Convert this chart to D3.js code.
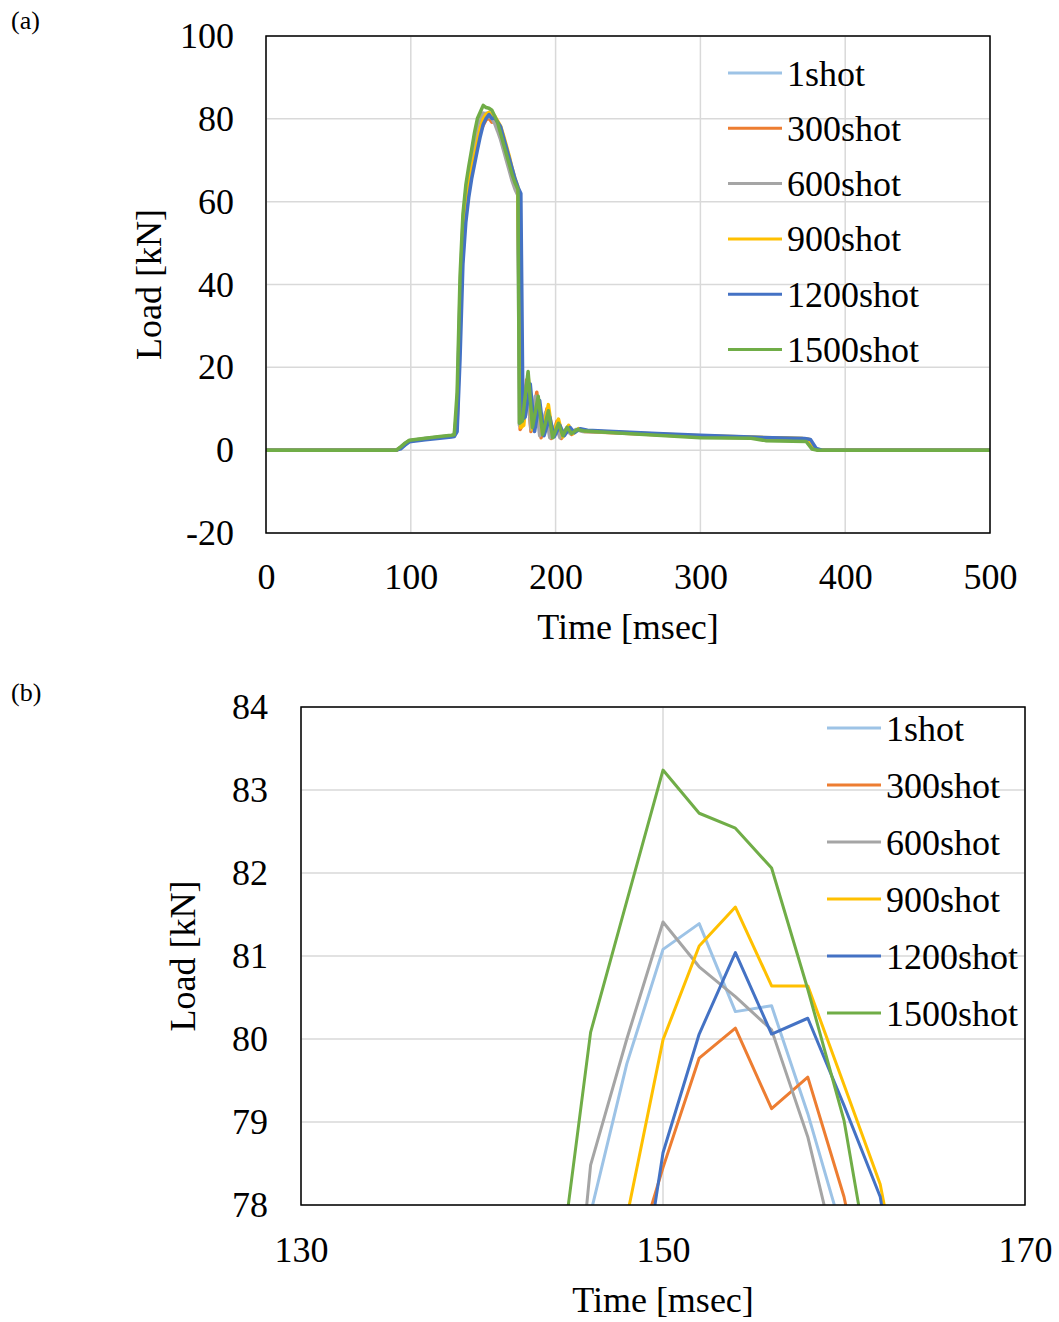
<!DOCTYPE html>
<html>
<head>
<meta charset="utf-8">
<script src="https://cdn.jsdelivr.net/npm/d3@7"></script>
<style>
  body { margin: 0; background: #fff; }
  svg { display: block; }
  text { font-family: "Liberation Serif", "Times New Roman", serif; fill: #000; }
</style>
</head>
<body>
<svg id="chart" width="1059" height="1322"></svg>
<script>
// Load history for the six shot counts
const seriesNames = ["1shot", "300shot", "600shot", "900shot", "1200shot", "1500shot"];
const seriesColors = ["#9DC3E6", "#ED7D31", "#A5A5A5", "#FFC000", "#4472C4", "#70AD47"];

// Pre-load and rising edge (msec / kN)
const riseTime = [0, 90, 93, 96, 99, 110, 120, 128, 130, 132, 134, 136, 138, 140, 142];
const rise1    = [0, 0, 0.7, 1.6, 2.3, 2.8, 3.2, 3.5, 3.6, 9, 36, 54, 62, 67, 71];
const rise300  = [0, 0, 0.6, 1.5, 2.2, 2.7, 3.1, 3.4, 3.5, 6, 30, 49, 58, 63.5, 67];
const rise600  = [0, 0, 0.7, 1.6, 2.3, 2.8, 3.2, 3.5, 3.6, 10, 38, 55, 62.5, 67, 70.5];
const rise900  = [0, 0, 0.6, 1.5, 2.2, 2.7, 3.1, 3.4, 3.5, 7, 33, 51, 59.5, 64.5, 68];
const rise1200 = [0, 0, 0.3, 1.2, 2.0, 2.5, 2.9, 3.2, 3.3, 4.5, 22, 45, 55, 61, 65.5];
const rise1500 = [0, 0, 0.8, 1.7, 2.4, 2.9, 3.3, 3.6, 3.7, 14, 42, 57, 64, 68.5, 72.5];

// Peak region, 2 msec sampling
const peakTime = [144, 146, 148, 150, 152, 154, 156, 158, 160, 162, 164];
const peak1    = [74.5, 77.9, 79.7, 81.08, 81.39, 80.33, 80.40, 79.1, 77.6, 75.5, 73];
const peak300  = [70, 73.5, 77.0, 78.45, 79.77, 80.13, 79.16, 79.54, 78.1, 76, 73.5];
const peak600  = [74, 78.48, 80.0, 81.41, 80.87, 80.51, 80.11, 78.82, 77.0, 75, 72.5];
const peak900  = [71, 74.5, 77.85, 79.99, 81.12, 81.59, 80.64, 80.64, 79.45, 78.25, 76];
const peak1200 = [69, 72.5, 75.8, 78.63, 80.06, 81.04, 80.06, 80.25, 79.2, 78.1, 75.5];
const peak1500 = [76.7, 80.08, 81.66, 83.24, 82.72, 82.54, 82.06, 80.6, 79.02, 76.5, 74];

// Unloading, rebound oscillation and residual load: [msec, kN]
const tail1 = [[166,71],[168,68.5],[170,66],[172,64],[174,62.5],[175.5,6.5],[177,7],[180.5,17],[183.5,5.5],[187,13],[190,4],[194,9.5],[197,3.5],[201,6.5],[204,3.8],[208,5.5],[211,4.2],[215,5],[220,4.7],[240,4.3],[270,3.8],[300,3.3],[340,3.0],[370,2.7],[375,2.5],[379,0.3],[383,0],[500,0]];
const tail300 = [[166,71],[168,68.5],[170,66],[172,64],[174,62.5],[175.5,5],[177,6],[180,17],[183,4.5],[187,14],[190,3],[194,10],[197,2.8],[201,7],[204,2.8],[208,5.5],[211,3.8],[215,5],[220,4.5],[240,4.2],[270,3.7],[300,3.2],[340,3.0],[370,2.7],[375,2.5],[379,0.3],[383,0],[500,0]];
const tail600 = [[166,70],[168,67.5],[170,65],[172,63],[174,61.5],[175,6],[177,6.5],[180,16],[183,5],[186,13],[189,3.5],[193,9],[196,3],[200,6],[203,3],[207,5],[210,4],[214,5],[219,4.5],[240,4.3],[270,3.8],[300,3.4],[340,3.0],[370,2.8],[375,2.6],[379,0.3],[383,0],[500,0]];
const tail900 = [[166,73.5],[168,71],[170,68],[172,65.5],[174,63.5],[176,5.5],[178,6],[181,18],[184,5],[188,12.5],[191,4],[195,11],[198,3.5],[202,7.5],[205,3.2],[209,6],[212,4],[216,5.2],[221,4.6],[240,4.4],[270,3.9],[300,3.5],[340,3.1],[370,2.8],[375,2.6],[379,0.3],[383,0],[500,0]];
const tail1200 = [[166,73],[168,70.5],[170,68],[172,65.5],[174,63.5],[176,62],[177.5,7.5],[179,8],[182.5,16],[185.5,4.5],[189,12],[192,3.5],[196,8],[199,3.2],[203,6],[206,3.5],[210,5.5],[213,4.2],[217,5.2],[222,4.8],[240,4.5],[270,4.0],[300,3.6],[340,3.1],[372,2.8],[376,2.6],[380,0.4],[384,0],[500,0]];
const tail1500 = [[166,71.5],[168,69],[170,66.5],[172,64.5],[174,63],[175,6.5],[177,7],[181,19],[184,5.5],[188,13],[191,3.8],[195,9.5],[198,3],[202,6.5],[205,3.5],[208,5.5],[211,4],[215,5],[220,4.6],[240,4.2],[270,3.6],[300,3.0],[335,2.9],[345,2.3],[373,2.1],[377,0.3],[381,0],[500,0]];

// Axis ticks
const xTicksA = [0, 100, 200, 300, 400, 500];
const yTicksA = [-20, 0, 20, 40, 60, 80, 100];
const xTicksB = [130, 150, 170];
const yTicksB = [78, 79, 80, 81, 82, 83, 84];

const riseVals = [rise1, rise300, rise600, rise900, rise1200, rise1500];
const peakVals = [peak1, peak300, peak600, peak900, peak1200, peak1500];
const tailVals = [tail1, tail300, tail600, tail900, tail1200, tail1500];

const series = seriesNames.map((name, i) => {
  const pts = [];
  riseTime.forEach((t, k) => pts.push([t, riseVals[i][k]]));
  peakTime.forEach((t, k) => pts.push([t, peakVals[i][k]]));
  tailVals[i].forEach(p => pts.push([p[0], p[1]]));
  return { name, color: seriesColors[i], points: pts };
});

const svg = d3.select("#chart");
const FS = 36;

function drawPanel(o) {
  const g = svg.append("g");
  const [x0, x1] = o.x.range();
  const [y0, y1] = o.y.range(); // y0 bottom, y1 top

  // grid
  g.append("g").selectAll("line").data(o.yTicks).join("line")
    .attr("x1", x0).attr("x2", x1)
    .attr("y1", d => o.y(d)).attr("y2", d => o.y(d))
    .attr("stroke", "#d9d9d9").attr("stroke-width", 1.5);
  g.append("g").selectAll("line").data(o.xTicks).join("line")
    .attr("y1", y0).attr("y2", y1)
    .attr("x1", d => o.x(d)).attr("x2", d => o.x(d))
    .attr("stroke", "#d9d9d9").attr("stroke-width", 1.5);

  // clip for the curves
  svg.append("defs").append("clipPath").attr("id", o.id + "-clip")
    .append("rect").attr("x", x0).attr("y", y1).attr("width", x1 - x0).attr("height", y0 - y1);

  const line = d3.line().x(d => o.x(d[0])).y(d => o.y(d[1]));
  g.append("g").attr("clip-path", `url(#${o.id}-clip)`)
    .selectAll("path").data(series).join("path")
    .attr("d", d => line(d.points))
    .attr("fill", "none")
    .attr("stroke", d => d.color)
    .attr("stroke-width", o.lineW)
    .attr("stroke-linejoin", "round");

  // frame
  g.append("rect").attr("x", x0).attr("y", y1).attr("width", x1 - x0).attr("height", y0 - y1)
    .attr("fill", "none").attr("stroke", "#000").attr("stroke-width", 1.5);

  // tick labels
  const ay = g.append("g").attr("transform", `translate(${x0},0)`)
    .call(d3.axisLeft(o.y).tickValues(o.yTicks).tickSize(0).tickPadding(o.yPad).tickFormat(d => String(d)));
  const ax = g.append("g").attr("transform", `translate(0,${y0})`)
    .call(d3.axisBottom(o.x).tickValues(o.xTicks).tickSize(0).tickPadding(o.xPad).tickFormat(d => String(d)));
  [ay, ax].forEach(a => {
    a.select(".domain").remove();
    a.attr("font-family", null).attr("font-size", null);
    a.selectAll("text").attr("font-size", FS).attr("fill", "#000");
  });

  // axis titles
  g.append("text").attr("x", (x0 + x1) / 2).attr("y", o.xTitleY)
    .attr("text-anchor", "middle").attr("font-size", FS).text("Time [msec]");
  g.append("text").attr("transform", `translate(${o.yTitleX},${(y0 + y1) / 2}) rotate(-90)`)
    .attr("text-anchor", "middle").attr("font-size", FS).text("Load [kN]");

  // panel tag
  g.append("text").attr("x", 11).attr("y", o.tagY).attr("font-size", 26).text(o.tag);

  // legend
  const lg = g.append("g");
  series.forEach((s, i) => {
    const yy = o.legY + i * o.legStep;
    lg.append("line").attr("x1", o.legX).attr("x2", o.legX + 54)
      .attr("y1", yy).attr("y2", yy).attr("stroke", s.color).attr("stroke-width", 3);
    lg.append("text").attr("x", o.legX + 59).attr("y", yy + 12.5)
      .attr("font-size", FS).text(s.name);
  });
}

drawPanel({
  id: "a", tag: "(a)", tagY: 29,
  x: d3.scaleLinear().domain([0, 500]).range([266, 990]),
  y: d3.scaleLinear().domain([-20, 100]).range([533, 36]),
  xTicks: xTicksA, yTicks: yTicksA,
  yPad: 32, xPad: 30, lineW: 3.5,
  xTitleY: 639, yTitleX: 161,
  legX: 728, legY: 73, legStep: 55.3
});

drawPanel({
  id: "b", tag: "(b)", tagY: 701,
  x: d3.scaleLinear().domain([130, 170]).range([301, 1025]),
  y: d3.scaleLinear().domain([78, 84]).range([1205, 707]),
  xTicks: xTicksB, yTicks: yTicksB,
  yPad: 33, xPad: 31, lineW: 3,
  xTitleY: 1312, yTitleX: 195,
  legX: 827, legY: 728, legStep: 57
});
</script>
</body>
</html>
